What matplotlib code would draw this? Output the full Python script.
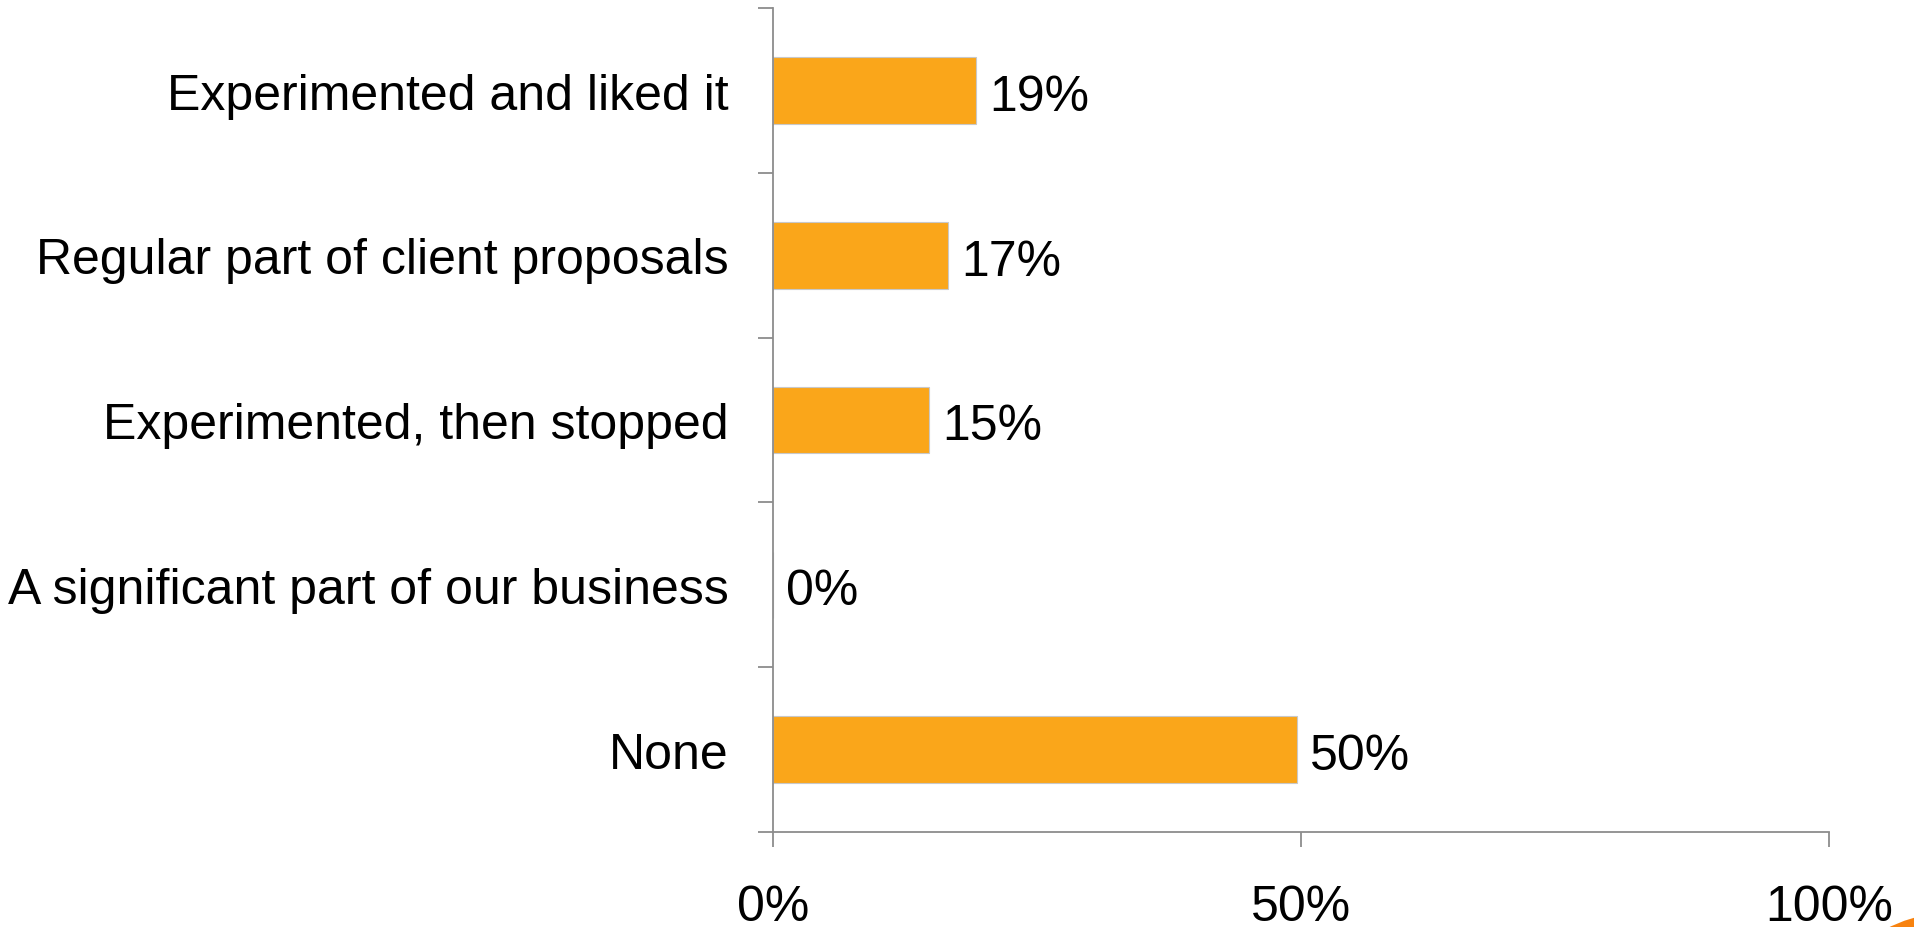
import matplotlib
matplotlib.use("Agg")
import matplotlib.pyplot as plt
from matplotlib.patches import Circle
from matplotlib.transforms import IdentityTransform
import numpy as np

plt.rcParams['font.family'] = ['Liberation Sans', 'DejaVu Sans']

categories = [
    "Experimented and liked it",
    "Regular part of client proposals",
    "Experimented, then stopped",
    "A significant part of our business",
    "None",
]
shares = [19.2, 16.6, 14.8, 0.0, 49.6]
x_ticks = [0, 50, 100]
x_tick_labels = ["0%", "50%", "100%"]

BAR_COLOR = "#FAA61A"
AXIS_COLOR = "#8C8C8C"
FONT_SIZE = 36

fig = plt.figure(figsize=(19.14, 9.28), dpi=100)
ax = fig.add_axes([0.4039, 0.1024, 0.9556 - 0.4039, 0.99 - 0.1024])

pos = np.arange(len(categories))
ax.barh(pos, shares, height=0.405, color=BAR_COLOR,
        edgecolor="#C8C8C8", linewidth=0.8, zorder=2)

for y, v in zip(pos, shares):
    ax.annotate(f"{v:.0f}%", xy=(v, y), xytext=(9.5, -4.5),
                textcoords="offset points", ha="left", va="center",
                fontsize=FONT_SIZE, color="black")

ax.set_xlim(0, 100)
ax.set_ylim(len(categories) - 0.5, -0.5)

# Category labels sit between boundary ticks
ax.set_yticks(pos)
ax.set_yticklabels(categories, fontsize=FONT_SIZE)
ax.set_yticks(np.arange(-0.5, len(categories)), minor=True)
ax.tick_params(axis="y", which="major", length=0, pad=32)
ax.tick_params(axis="y", which="minor", length=10.8, width=1.3,
               color=AXIS_COLOR, direction="out")
for lbl in ax.get_yticklabels():
    lbl.set_y(lbl.get_position()[1])
ax.yaxis.set_tick_params(which="major", labelsize=FONT_SIZE)

ax.set_xticks(x_ticks)
ax.set_xticklabels(x_tick_labels, fontsize=FONT_SIZE)
ax.tick_params(axis="x", length=10.8, width=1.3, color=AXIS_COLOR,
               direction="out", pad=26.5)

for side in ("top", "right"):
    ax.spines[side].set_visible(False)
for side in ("left", "bottom"):
    ax.spines[side].set_color(AXIS_COLOR)
    ax.spines[side].set_linewidth(1.3)

# Orange decorative disc peeking in at the lower right corner
fig.patches.append(Circle((1955, -135), 150, transform=IdentityTransform(),
                          facecolor="#F7820F", edgecolor="none", zorder=5))

fig.savefig("out.png", dpi=100, facecolor="white")
